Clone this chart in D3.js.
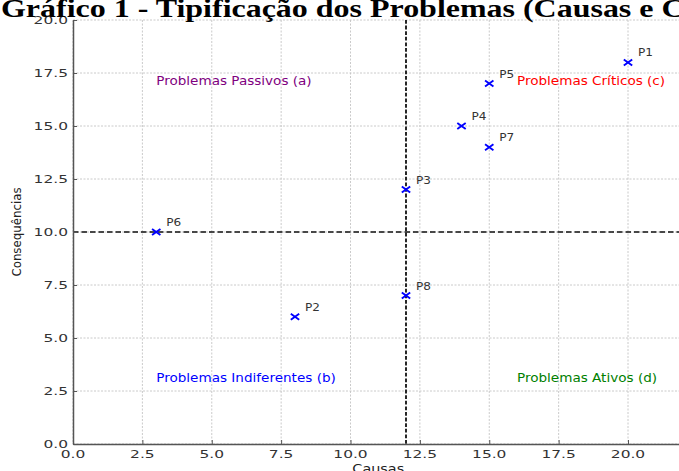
<!DOCTYPE html>
<html>
<head>
<meta charset="utf-8">
<script src="https://cdn.jsdelivr.net/npm/d3@7"></script>
<style>
html,body{margin:0;padding:0;background:#fff;overflow:hidden;}
svg{display:block;}
</style>
</head>
<body>
<svg id="chart" width="679" height="471"></svg>
<script>
// ---- data ----
const pointNames = ["P1","P2","P3","P4","P5","P6","P7","P8"];
const causas = [20, 8, 12, 14, 15, 3, 15, 12];
const consequencias = [18, 6, 12, 15, 17, 10, 14, 7];
const quadrantLabels = ["Problemas Passivos (a)","Problemas Indiferentes (b)","Problemas Críticos (c)","Problemas Ativos (d)"];
const quadrantX = [3, 3, 16, 16];
const quadrantY = [17, 3, 17, 3];
const quadrantColors = ["purple","blue","red","green"];
const xTicks = [0, 2.5, 5, 7.5, 10, 12.5, 15, 17.5, 20];
const yTicks = [0, 2.5, 5, 7.5, 10, 12.5, 15, 17.5, 20];
const xDomain = [0, 22];
const yDomain = [0, 20];
const thresholdX = 12;
const thresholdY = 10;
const titleText = "Gráfico 1 - Tipificação dos Problemas (Causas e Consequências)";
const xLabel = "Causas";
const yLabel = "Consequências";

(function () {
// ---- layout ----
const svg = d3.select("#chart");
const mLeft = 73, mTop = 20, mRight = 683.5, mBottom = 444;
const x = d3.scaleLinear().domain(xDomain).range([mLeft, mRight]);
const y = d3.scaleLinear().domain(yDomain).range([mBottom, mTop]);
const fmt = d3.format(".1f");
const SANS = "DejaVu Sans, Verdana, sans-serif";

function stretchedText(g, px, py, txt, opts) {
  const k = opts.k || 1;
  const t = g.append("text")
    .attr("transform", `translate(${px},${py}) scale(${k},1)` + (opts.rotate ? ` rotate(${opts.rotate})` : ""))
    .attr("font-family", opts.family || SANS)
    .attr("font-size", opts.size)
    .attr("fill", opts.fill || "#333")
    .attr("text-anchor", opts.anchor || "start")
    .text(txt);
  if (opts.weight) t.attr("font-weight", opts.weight);
  return t;
}

// grid
const grid = svg.append("g");
grid.selectAll("line.gx").data(xTicks).join("line").attr("class", "gx")
  .attr("x1", d => x(d)).attr("x2", d => x(d))
  .attr("y1", y(yDomain[1])).attr("y2", y(yDomain[0]))
  .attr("stroke", "#c4c4c4").attr("stroke-width", 0.9).attr("stroke-dasharray", "2,1.5");
grid.selectAll("line.gy").data(yTicks).join("line").attr("class", "gy")
  .attr("x1", x(xDomain[0])).attr("x2", x(xDomain[1]))
  .attr("y1", d => y(d)).attr("y2", d => y(d))
  .attr("stroke", "#c4c4c4").attr("stroke-width", 0.9).attr("stroke-dasharray", "2,1.5");

// threshold lines
svg.append("line")
  .attr("x1", x(xDomain[0])).attr("x2", x(xDomain[1]))
  .attr("y1", y(thresholdY)).attr("y2", y(thresholdY))
  .attr("stroke", "#111").attr("stroke-width", 1.3).attr("stroke-dasharray", "5.5,3");
svg.append("line")
  .attr("x1", x(thresholdX)).attr("x2", x(thresholdX))
  .attr("y1", y(yDomain[1])).attr("y2", y(yDomain[0]))
  .attr("stroke", "#111").attr("stroke-width", 1.8).attr("stroke-dasharray", "3.8,1.8");

// axes
const xAxis = d3.axisBottom(x).tickValues(xTicks).tickFormat(fmt).tickSizeInner(-4).tickSizeOuter(0);
const yAxis = d3.axisLeft(y).tickValues(yTicks).tickFormat(fmt).tickSizeInner(-4).tickSizeOuter(0);
const gx = svg.append("g").attr("transform", `translate(0,${mBottom})`).call(xAxis);
const gy = svg.append("g").attr("transform", `translate(${mLeft},0)`).call(yAxis);
[gx, gy].forEach(g => {
  g.select(".domain").attr("stroke", "#555").attr("stroke-width", 1.5);
  g.selectAll(".tick line").attr("stroke", "#555").attr("stroke-width", 1);
  g.selectAll(".tick text").remove();
});
// tick labels (stretched)
const tl = svg.append("g");
xTicks.forEach(v => stretchedText(tl, x(v), 457.5, fmt(v), {size: 11.2, k: 1.38, anchor: "middle", fill: "#333"}));
yTicks.forEach(v => stretchedText(tl, 68, y(v) + 4, fmt(v), {size: 11.2, k: 1.38, anchor: "end", fill: "#333"}));

// axis labels
stretchedText(svg, (mLeft + mRight) / 2, 472.5, xLabel, {size: 12, k: 1.2, anchor: "middle", fill: "#222"});
stretchedText(svg, 21, (mTop + mBottom) / 2, yLabel, {size: 11.8, k: 1.1, anchor: "middle", fill: "#222", rotate: -90});

// title
stretchedText(svg, 1, 16.5, titleText, {size: 26, k: 1.23, anchor: "start", fill: "#000", family: "Liberation Serif, Times New Roman, serif", weight: "bold"});

// quadrant labels
const ql = svg.append("g");
quadrantLabels.forEach((t, i) => {
  stretchedText(ql, x(quadrantX[i]), y(quadrantY[i]) + 1.5, t, {size: 11.5, k: 1.18, fill: quadrantColors[i]});
});

// points
const pts = pointNames.map((n, i) => ({name: n, cx: causas[i], cy: consequencias[i]}));
const hw = 4.2, hh = 3;
svg.append("g").selectAll("path").data(pts).join("path")
  .attr("d", d => {
    const px = x(d.cx), py = y(d.cy);
    return `M${px-hw},${py-hh}L${px+hw},${py+hh}M${px-hw},${py+hh}L${px+hw},${py-hh}`;
  })
  .attr("stroke", "blue").attr("stroke-width", 1.9).attr("fill", "none");
const pl = svg.append("g");
pts.forEach(d => stretchedText(pl, x(d.cx) + 10, y(d.cy) - 6, d.name, {size: 10.5, k: 1.15, fill: "#333"}));
})();
</script>
</body>
</html>
